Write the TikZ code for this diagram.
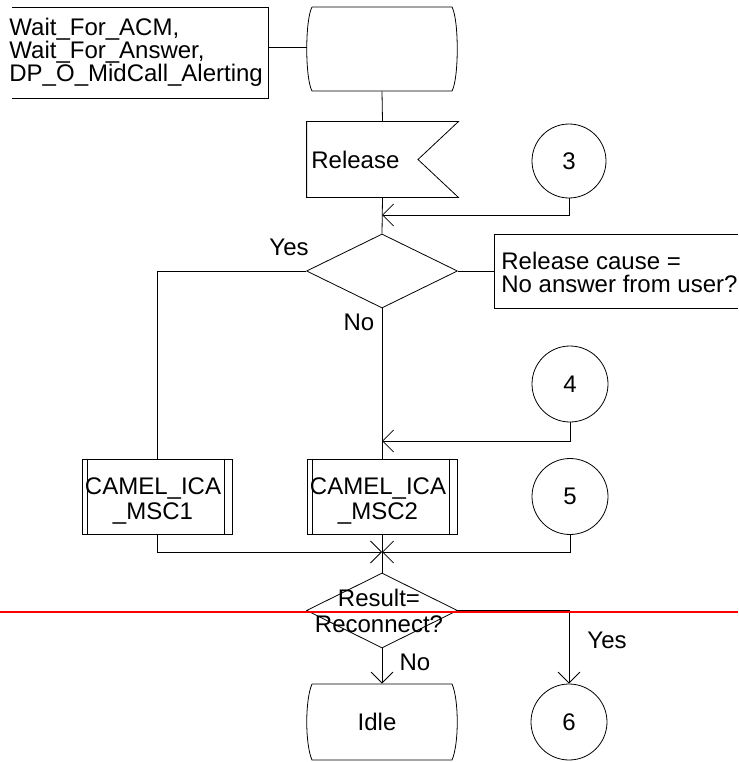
\documentclass[tikz,border=0pt]{standalone}
\usepackage{fontspec}
\setmainfont{Liberation Sans}
\usetikzlibrary{arrows.meta,shapes.geometric}
\begin{document}
\begin{tikzpicture}[x=1pt,y=-1pt,
  line width=0.8pt,
  txt/.style={font=\fontsize{24}{21.5}\selectfont, inner sep=0pt},
  conn/.style={circle,draw,minimum size=74pt,inner sep=0pt,font=\fontsize{24}{22}\selectfont},
  hold/.style={rectangle,inner sep=0pt},
  proc/.style={rectangle,draw,minimum width=150pt,minimum height=75pt,inner sep=0pt},
  dec/.style={diamond,draw,minimum width=151pt,minimum height=74pt,inner sep=0pt},
  arr/.style={-{Straight Barb[length=11pt,width=22pt]}},
  redline/.style={draw=red,line width=2pt}
]
\useasboundingbox (0,0) rectangle (738,762);

% comment box 1
\node[hold,minimum width=256pt,minimum height=91pt] (cbox) at (140,52.5) {};
\draw (12,7) -- (268,7) -- (268,98) -- (12,98);
\node[txt,anchor=west,align=left] (ctext) at (9,52) {Wait\_For\_ACM,\\Wait\_For\_Answer,\\DP\_O\_MidCall\_Alerting};

% state (top)
\node[hold,minimum width=150pt,minimum height=84pt] (st) at (382,49) {};
\draw (312,7) -- (452,7) .. controls (459,20) and (459,78) .. (452,91) -- (312,91) .. controls (305,78) and (305,20) .. (312,7);
\draw (st.west |- 0,47) -- (cbox.east |- 0,47);

% Release input
\node[hold,minimum width=151pt,minimum height=75pt] (rel) at (382.5,159.5) {};
\draw (rel.north west) -- (rel.north east) -- (418,159.5) -- (rel.south east) -- (rel.south west) -- cycle;
\node[txt,anchor=west] (reltext) at (311,159.5) {Release};
\draw (st.south) -- (rel.north);

% connector 3
\node[conn] (n3) at (569,161) {3};
\coordinate (j1) at (382,215);
\draw[arr] (n3.south) |- (j1);

% decision 1
\node[dec] (d1) at (382,271) {};
\draw (rel.south) -- (d1.north);
\draw (738,234) -- (494,234) -- (494,308) -- (738,308);
\coordinate (cm2) at (494,271);
\node[txt,anchor=west,align=left,font=\fontsize{24}{23}\selectfont] (cm2text) at (501,272) {Release cause =\\No answer from user?};
\draw (d1.east) -- (cm2);
\node[txt] (yes1) at (289,247) {Yes};
\node[txt] (no1) at (359,322) {No};

% procedures
\node[proc] (m1) at (157,496.5) {};
\draw ([xshift=6pt]m1.north west) -- ([xshift=6pt]m1.south west);
\draw ([xshift=-8pt]m1.north east) -- ([xshift=-8pt]m1.south east);
\node[txt,align=center,font=\fontsize{24}{25}\selectfont] (m1text) at (153,501) {CAMEL\_ICA\\\_MSC1};
\node[proc] (m2) at (382,496.5) {};
\draw ([xshift=6pt]m2.north west) -- ([xshift=6pt]m2.south west);
\draw ([xshift=-8pt]m2.north east) -- ([xshift=-8pt]m2.south east);
\node[txt,align=center,font=\fontsize{24}{25}\selectfont] (m2text) at (378,501) {CAMEL\_ICA\\\_MSC2};
\draw (d1.west) -| (m1.north);
\draw (d1.south) -- (m2.north);

% connector 4
\node[conn,minimum size=76pt] (n4) at (570,384) {4};
\coordinate (j2) at (382,441);
\draw[arr] (n4.south) |- (j2);

% connector 5
\node[conn,minimum size=76pt] (n5) at (570,496.5) {5};
\coordinate (j3) at (382,552);
\draw[arr] (m1.south) |- (j3);
\draw[arr] (n5.south) |- (j3);

% decision 2
\node[dec,minimum height=75pt] (d2) at (382,610.5) {};
\draw (m2.south) -- (d2.north);
\node[txt,align=center,font=\fontsize{24}{26}\selectfont] (d2text) at (379,611) {Result=\\Reconnect?};

% Idle state
\node[hold,minimum width=150pt,minimum height=76pt] (idle) at (382,722) {};
\draw (312,684) -- (452,684) .. controls (459,700) and (459,744) .. (452,760) -- (312,760) .. controls (305,744) and (305,700) .. (312,684);
\node[txt] (idletext) at (377,722) {Idle};
\draw[arr] (d2.south) -- (idle.north);
\node[txt] (no2) at (415,662) {No};

% connector 6
\node[conn,minimum size=76pt] (n6) at (569,722) {6};
\draw[arr] (d2.east) -| (n6.north);
\node[txt] (yes2) at (607,640) {Yes};

% red line
\coordinate (rl) at (0,612);
\coordinate (rr) at (738,612);
\draw[redline] (rl) -- (rr);
\end{tikzpicture}
\end{document}
